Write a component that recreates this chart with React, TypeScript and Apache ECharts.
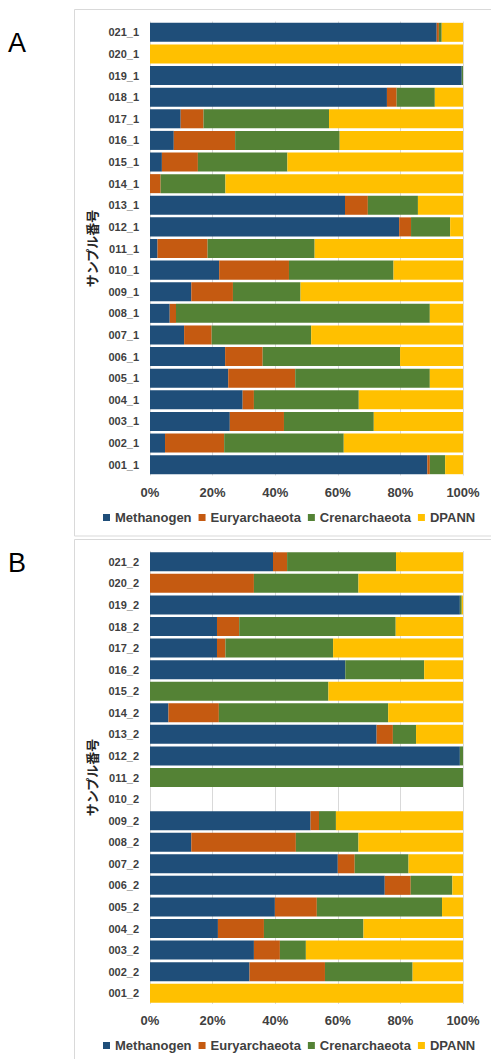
import React, { useEffect, useRef } from "react";
import * as echarts from "echarts";

const categoriesA = ["001_1","002_1","003_1","004_1","005_1","006_1","007_1","008_1","009_1","010_1","011_1","012_1","013_1","014_1","015_1","016_1","017_1","018_1","019_1","020_1","021_1"];
const categoriesB = ["001_2","002_2","003_2","004_2","005_2","006_2","007_2","008_2","009_2","010_2","011_2","012_2","013_2","014_2","015_2","016_2","017_2","018_2","019_2","020_2","021_2"];

const seriesNames = ["Methanogen", "Euryarchaeota", "Crenarchaeota", "DPANN"];
const colors = ["#1F4E79", "#C55A11", "#548235", "#FFC000"];

const methanogenA = [88.6,4.8,25.5,29.6,25.0,24.0,10.9,6.3,13.2,22.1,2.4,79.6,62.3,0,3.8,7.6,9.8,75.7,99.6,0,91.6];
const euryA =       [0.8,18.9,17.3,3.6,21.4,12.0,8.8,2.0,13.3,22.3,16.0,3.8,7.3,3.4,11.5,19.6,7.3,3.1,0,0,0.7];
const crenA =       [4.9,38.2,28.7,33.5,43.0,43.9,31.8,81.1,21.6,33.4,34.2,12.5,16.0,20.7,28.6,33.4,40.1,12.2,0.4,0,0.9];
const dpannA =      [5.7,38.1,28.5,33.3,10.6,20.1,48.5,10.6,51.9,22.2,47.4,4.1,14.4,75.9,56.1,39.4,42.8,9.0,0,100,6.8];

const methanogenB = [0,31.8,33.2,21.7,39.9,75.0,60.0,13.2,51.3,0,0,99.0,72.4,5.9,0,62.4,21.4,21.4,99.0,0,39.3];
const euryB =       [0,24.1,8.3,14.7,13.4,8.3,5.4,33.4,2.7,0,0,0,5.2,16.1,0,0,2.7,7.1,0,33.2,4.5];
const crenB =       [0,28.0,8.3,31.8,40.0,13.3,17.2,20.0,5.4,0,100,1.0,7.4,54.1,57.0,25.2,34.4,50.0,0.6,33.4,34.8];
const dpannB =      [100,16.1,50.2,31.8,6.7,3.4,17.4,33.4,40.6,0,0,0,15.0,23.9,43.0,12.4,41.5,21.5,0.4,33.4,21.4];

const xTicks = [0, 20, 40, 60, 80, 100];

const FONT = "'Liberation Sans', Arial, sans-serif";
const TEXT = "#404040";

export default function App() {
  const ref = useRef<HTMLDivElement>(null);
  useEffect(() => {
    document.body.style.margin = "0";
    const chart = echarts.init(ref.current!, undefined, { renderer: "svg" });
    const dataA = [methanogenA, euryA, crenA, dpannA];
    const dataB = [methanogenB, euryB, crenB, dpannB];
    const grids = [
      { left: 150, width: 313, top: 21.5, height: 454 },
      { left: 150, width: 313, top: 551, height: 453 },
    ];
    const xAxis = [0, 1].map((i) => ({
      type: "value",
      gridIndex: i,
      min: xTicks[0],
      max: xTicks[xTicks.length - 1],
      interval: 20,
      axisLine: { show: false },
      axisTick: { show: false },
      splitLine: { show: true, lineStyle: { color: "#d9d9d9", width: 1 } },
      axisLabel: {
        formatter: (v: number) => v + "%",
        fontFamily: FONT,
        fontWeight: "bold",
        fontSize: 13,
        color: TEXT,
        margin: 10,
      },
    }));
    const yAxis = [categoriesA, categoriesB].map((cats, i) => ({
      type: "category",
      gridIndex: i,
      data: cats,
      axisLine: { show: false },
      axisTick: { show: false },
      axisLabel: {
        fontFamily: FONT,
        fontWeight: "bold",
        fontSize: 11,
        color: TEXT,
        margin: 11,
      },
      name: "サンプル番号",
      nameLocation: "middle",
      nameGap: 37,
      nameRotate: 90,
      nameTextStyle: {
        fontFamily: "'Noto Sans CJK JP', sans-serif",
        fontWeight: "bold",
        fontSize: 13,
        color: "#262626",
      },
    }));
    const series: any[] = [];
    [dataA, dataB].forEach((d, gi) => {
      seriesNames.forEach((name, si) => {
        series.push({
          type: "bar",
          name,
          stack: "s" + gi,
          xAxisIndex: gi,
          yAxisIndex: gi,
          data: d[si],
          barCategoryGap: "12%",
          itemStyle: { color: colors[si] },
          emphasis: { disabled: true },
        });
      });
    });
    const legendBase = {
      data: seriesNames,
      left: 103,
      width: 385,
      padding: 0,
      icon: "rect",
      itemWidth: 7,
      itemHeight: 7,
      itemGap: 7,
      textStyle: { fontFamily: FONT, fontWeight: "bold", fontSize: 13, color: TEXT },
    };
    chart.setOption({
      animation: false,
      backgroundColor: "#ffffff",
      grid: grids,
      xAxis,
      yAxis,
      series,
      legend: [
        { ...legendBase, top: 511 },
        { ...legendBase, top: 1039 },
      ],
      graphic: [
        { type: "rect", shape: { x: 74.5, y: 9.5, width: 500, height: 526.5 }, style: { fill: "none", stroke: "#d9d9d9", lineWidth: 1 }, silent: true },
        { type: "rect", shape: { x: 74.5, y: 539.5, width: 500, height: 600 }, style: { fill: "none", stroke: "#d9d9d9", lineWidth: 1 }, silent: true },
        { type: "text", left: 8, top: 29, style: { text: "A", font: "27px " + FONT, fill: "#000" } },
        { type: "text", left: 8, top: 549, style: { text: "B", font: "27px " + FONT, fill: "#000" } },
      ],
    });
    return () => chart.dispose();
  }, []);
  return <div ref={ref} style={{ position: "absolute", left: 0, top: 0, width: 491, height: 1059 }} />;
}
